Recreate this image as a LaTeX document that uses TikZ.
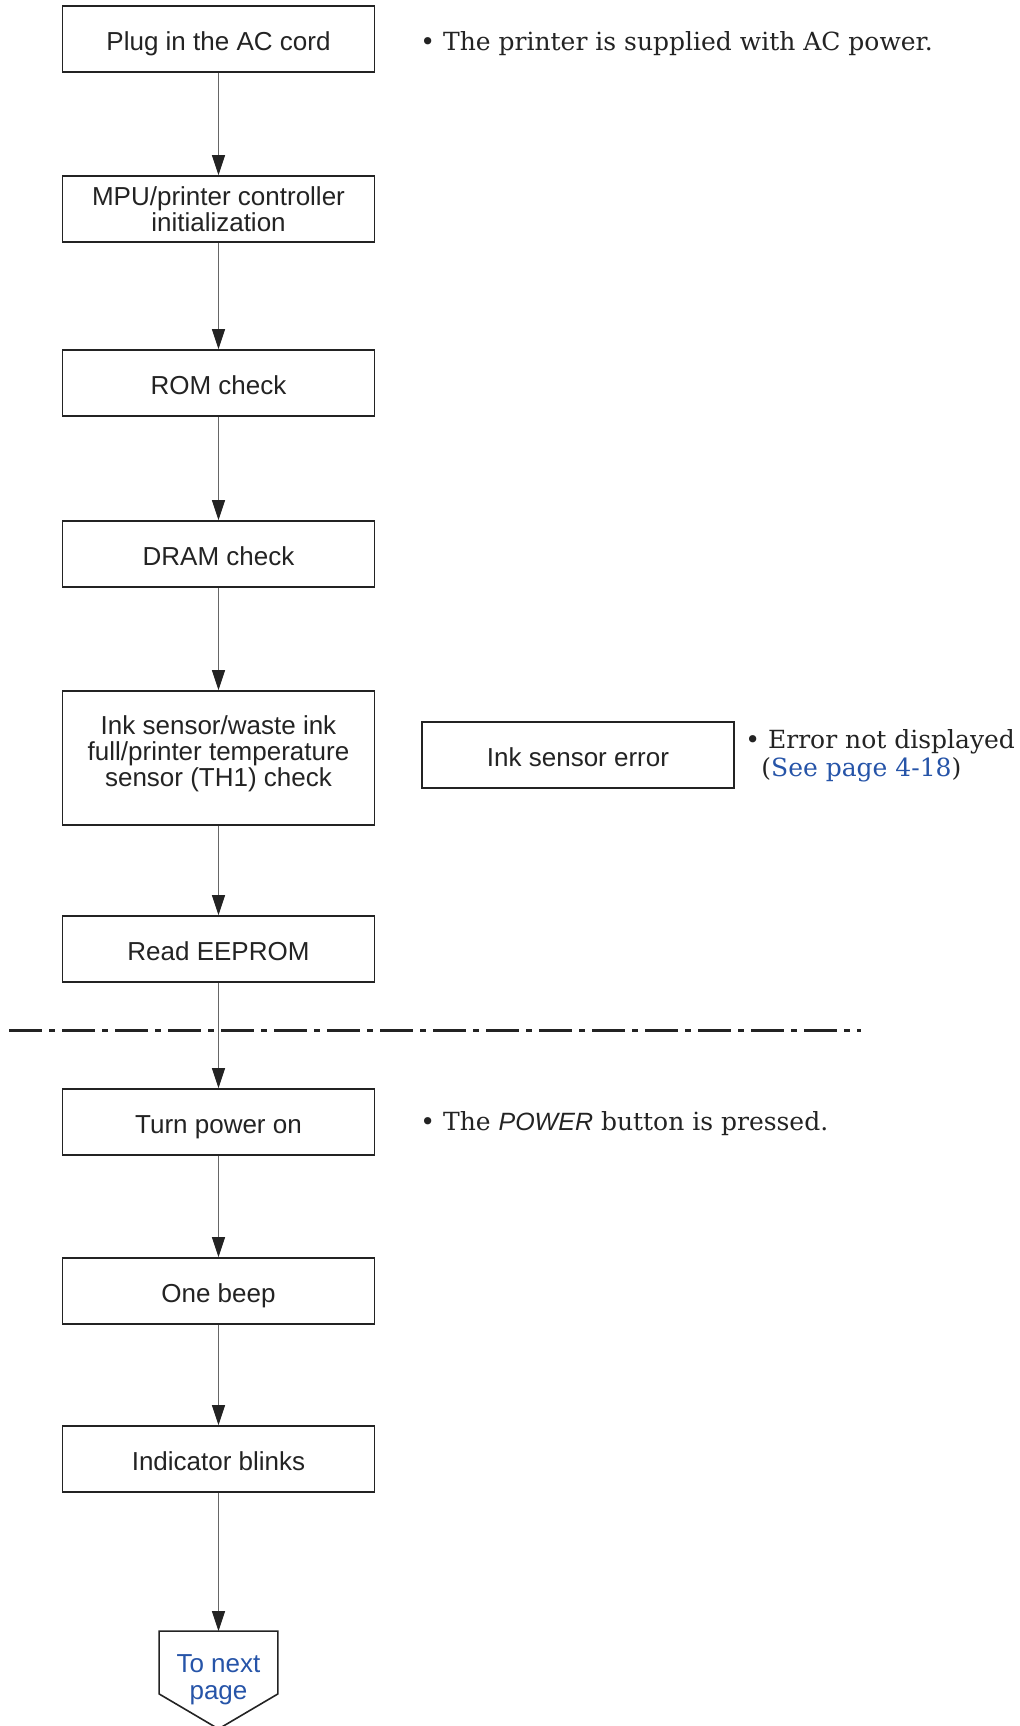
\documentclass[tikz,border=0pt]{standalone}
\usepackage{fontspec}
\setsansfont{Liberation Sans}
\newfontfamily\notefont{DejaVu Serif}
\usetikzlibrary{arrows.meta, positioning, calc}

\definecolor{inkgray}{RGB}{35,35,35}
\definecolor{linkblue}{RGB}{38,84,168}

\tikzset{
  stepbox/.style={draw=inkgray, line width=0.8pt, minimum width=156pt, minimum height=33pt,
    inner sep=0pt, align=center, text=inkgray, font=\sffamily\fontsize{13pt}{13pt}\selectfont},
  oneline/.style={text height=11pt, text depth=0pt},
  pagebox/.style={minimum width=59pt, minimum height=48.5pt, inner sep=0pt, align=center,
    text=linkblue, font=\sffamily\fontsize{13pt}{13.5pt}\selectfont},
  flow/.style={draw=black!60, line width=0.5pt, -{Triangle[length=10pt, width=6.5pt, color=inkgray]}},
  note/.style={anchor=base west, inner sep=0pt, align=left, text=inkgray,
    font=\notefont\fontsize{12.5pt}{14pt}\selectfont},
  sepline/.style={draw=inkgray, line width=1.5pt, dash pattern=on 16.5pt off 3.5pt on 3pt off 3.5pt}
}

\begin{document}
\begin{tikzpicture}[x=0.5pt, y=-0.5pt]
  \useasboundingbox (0,0) rectangle (1020,1726);

  % Steps
  \node[stepbox, oneline] (plug) at (218.5,39) {Plug in the AC cord};
  \node[stepbox] (mpu) at (218.5,209) {MPU/printer controller\\initialization};
  \node[stepbox, oneline] (rom) at (218.5,383) {ROM check};
  \node[stepbox, oneline] (dram) at (218.5,554) {DRAM check};
  \node[stepbox, minimum height=67pt, text depth=7.2pt] (ink) at (218.5,758) {Ink sensor/waste ink\\full/printer temperature\\sensor (TH1) check};
  \node[stepbox, oneline] (inkerr) at (578,755) {Ink sensor error};
  \node[stepbox, oneline] (eeprom) at (218.5,949) {Read EEPROM};
  \node[stepbox, oneline] (power) at (218.5,1122) {Turn power on};
  \node[stepbox, oneline] (beep) at (218.5,1291) {One beep};
  \node[stepbox, oneline] (blink) at (218.5,1459) {Indicator blinks};

  % Off-page connector
  \node[pagebox] (next) at (218.5,1680) {To next\\page};
  \draw[draw=inkgray, line width=0.8pt] (next.north west) -- (next.north east)
    -- ($(next.south east)+(0,-35)$) -- (next.south) -- ($(next.south west)+(0,-35)$) -- cycle;

  % Notes
  \node[note] (noteac) at (420,50) {\textbullet\ The printer is supplied with AC power.};
  \node[note] (noteerr) at (745,776) {\textbullet\ Error not displayed\\\hspace*{8pt}(\textcolor{linkblue}{See page 4-18})};
  \node[note] (notepower) at (420,1130) {\textbullet\ The {\sffamily\itshape POWER} button is pressed.};

  % Flow
  \draw[flow] (plug) -- (mpu);
  \draw[flow] (mpu) -- (rom);
  \draw[flow] (rom) -- (dram);
  \draw[flow] (dram) -- (ink);
  \draw[flow] (ink) -- (eeprom);
  \draw[flow] (eeprom) -- (power);
  \draw[flow] (power) -- (beep);
  \draw[flow] (beep) -- (blink);
  \draw[flow] (blink) -- (next);

  % Separator
  \draw[sepline] (9,1030) -- (861,1030);
\end{tikzpicture}
\end{document}
